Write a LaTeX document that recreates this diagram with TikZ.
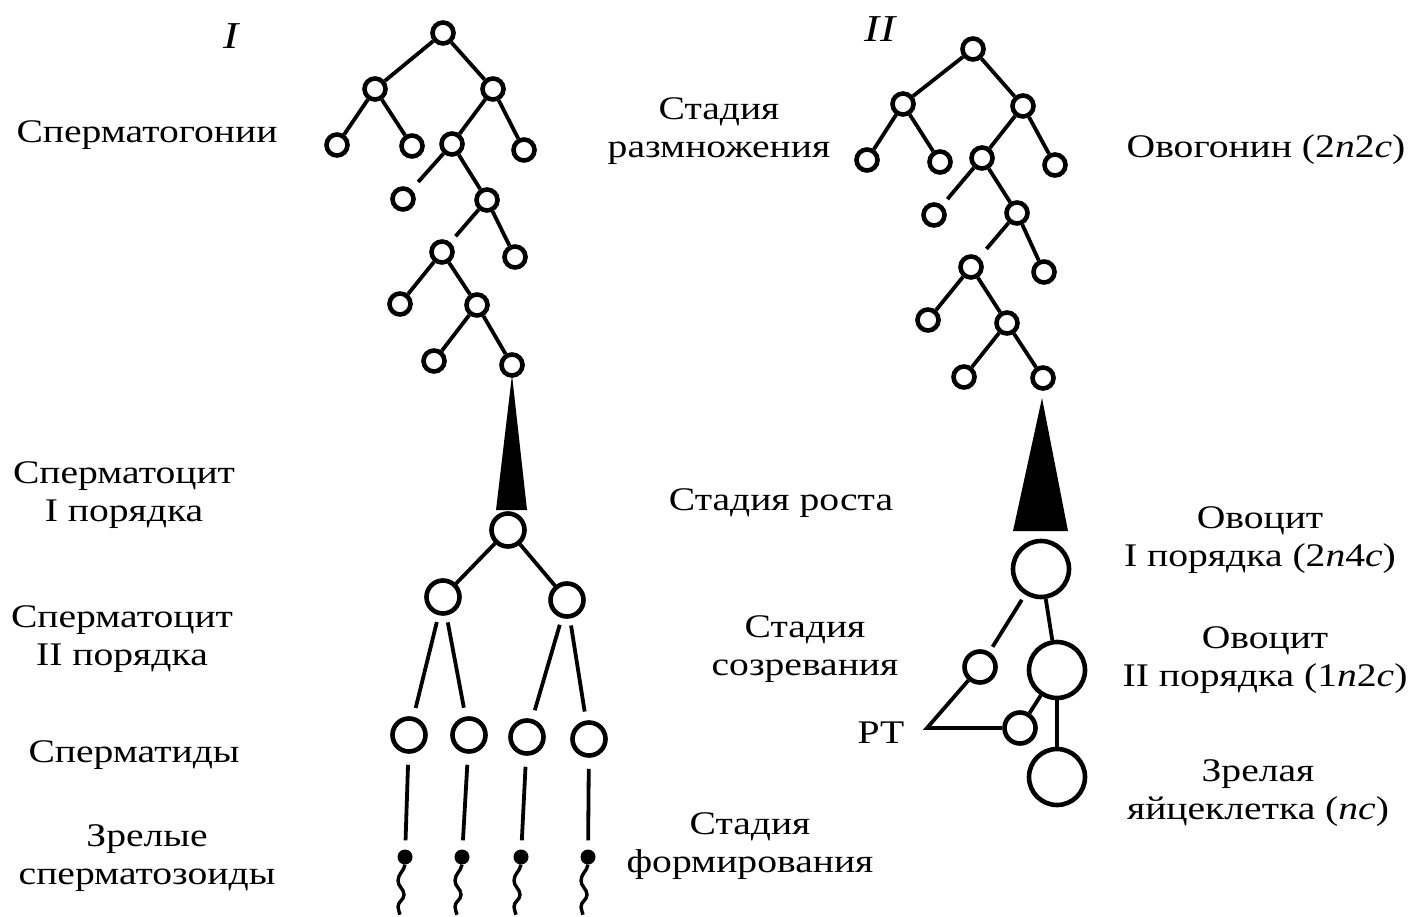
\documentclass[tikz,border=0pt]{standalone}
\usepackage{fontspec}
\setmainfont[FakeStretch=1.2]{Liberation Serif}
\tikzset{
  cell/.style={circle, draw, line width=4.6pt, minimum size=21pt, inner sep=0pt},
  mcell/.style={cell, minimum size=33pt},
  bcell/.style={cell, minimum size=56pt},
  pbody/.style={cell, minimum size=31pt},
  shead/.style={circle, fill, minimum size=15pt, inner sep=0pt},
  link/.style={line width=3.8pt},
  stail/.style={line width=3.4pt},
  lbl/.style={font=\fontsize{33}{38}\selectfont, align=center, inner sep=0pt}
}

\begin{document}
\begin{tikzpicture}[x=1pt, y=-1pt]
   \useasboundingbox (0,0) rectangle (1410,917);
   % spermatogonia
   \node(g0)[cell] at (443,33) {};
   \node(g1)[cell] at (375,89) {};
   \node(g2)[cell] at (493,89) {};
   \node(g3)[cell] at (337,145) {};
   \node(g4)[cell] at (412,146) {};
   \node(g5)[cell] at (452,144) {};
   \node(g6)[cell] at (524,150) {};
   \node(g7)[cell] at (403,199) {};
   \node(g8)[cell] at (487,200) {};
   \node(g9)[cell] at (442,252) {};
   \node(g10)[cell] at (515,257) {};
   \node(g11)[cell] at (400,304) {};
   \node(g12)[cell] at (477,305) {};
   \node(g13)[cell] at (434,361) {};
   \node(g14)[cell] at (512,365) {};
   \draw[link] (g0) -- (g1);
   \draw[link] (g0) -- (g2);
   \draw[link] (g1) -- (g3);
   \draw[link] (g1) -- (g4);
   \draw[link] (g2) -- (g5);
   \draw[link] (g2) -- (g6);
   \draw[link, shorten >=10pt] (g5) -- (g7);
   \draw[link] (g5) -- (g8);
   \draw[link, shorten >=8pt] (g8) -- (g9);
   \draw[link] (g8) -- (g10);
   \draw[link] (g9) -- (g11);
   \draw[link] (g9) -- (g12);
   \draw[link] (g12) -- (g13);
   \draw[link] (g12) -- (g14);
   % growth, left
   \fill (512,375) -- (527,510) -- (496,510) -- cycle;
   % spermatocytes, spermatids
   \node(sc1)[mcell] at (508,530) {};
   \node(sc2l)[mcell] at (443,597) {};
   \node(sc2r)[mcell] at (567,600) {};
   \node(st1)[mcell] at (409,735) {};
   \node(st2)[mcell] at (469,735) {};
   \node(st3)[mcell] at (527,737) {};
   \node(st4)[mcell] at (589,739) {};
   \draw[link] (sc1) -- (sc2l);
   \draw[link] (sc1) -- (sc2r);
   \draw[link, shorten <=7pt, shorten >=9pt] (sc2l) -- (st1);
   \draw[link, shorten <=7pt, shorten >=9pt] (sc2l) -- (st2);
   \draw[link, shorten <=7pt, shorten >=9pt] (sc2r) -- (st3);
   \draw[link, shorten <=7pt, shorten >=9pt] (sc2r) -- (st4);
   % spermatozoa
   \node(sz1)[shead] at (405,857) {};
   \node(sz2)[shead] at (462,857) {};
   \node(sz3)[shead] at (521,857) {};
   \node(sz4)[shead] at (588,857) {};
   \draw[link, shorten <=11pt, shorten >=9pt] (st1) -- (sz1);
   \draw[link, shorten <=11pt, shorten >=9pt] (st2) -- (sz2);
   \draw[link, shorten <=11pt, shorten >=9pt] (st3) -- (sz3);
   \draw[link, shorten <=11pt, shorten >=9pt] (st4) -- (sz4);
   \draw[stail] (sz1.south) to[out=260,in=90] ++(-7,16) to[out=270,in=90] ++(6,14) to[out=270,in=90] ++(-6,12) to[out=270,in=100] ++(2,8);
   \draw[stail] (sz2.south) to[out=260,in=90] ++(-7,16) to[out=270,in=90] ++(6,14) to[out=270,in=90] ++(-6,12) to[out=270,in=100] ++(2,8);
   \draw[stail] (sz3.south) to[out=260,in=90] ++(-7,16) to[out=270,in=90] ++(6,14) to[out=270,in=90] ++(-6,12) to[out=270,in=100] ++(2,8);
   \draw[stail] (sz4.south) to[out=260,in=90] ++(-7,16) to[out=270,in=90] ++(6,14) to[out=270,in=90] ++(-6,12) to[out=270,in=100] ++(2,8);
   % oogonia
   \node(og0)[cell] at (973,49) {};
   \node(og1)[cell] at (903,104) {};
   \node(og2)[cell] at (1023,106) {};
   \node(og3)[cell] at (867,160) {};
   \node(og4)[cell] at (940,162) {};
   \node(og5)[cell] at (982,158) {};
   \node(og6)[cell] at (1055,165) {};
   \node(og7)[cell] at (934,215) {};
   \node(og8)[cell] at (1017,213) {};
   \node(og9)[cell] at (971,267) {};
   \node(og10)[cell] at (1044,272) {};
   \node(og11)[cell] at (928,320) {};
   \node(og12)[cell] at (1007,323) {};
   \node(og13)[cell] at (964,377) {};
   \node(og14)[cell] at (1043,378) {};
   \draw[link] (og0) -- (og1);
   \draw[link] (og0) -- (og2);
   \draw[link] (og1) -- (og3);
   \draw[link] (og1) -- (og4);
   \draw[link] (og2) -- (og5);
   \draw[link] (og2) -- (og6);
   \draw[link, shorten >=8pt] (og5) -- (og7);
   \draw[link] (og5) -- (og8);
   \draw[link, shorten >=11pt] (og8) -- (og9);
   \draw[link] (og8) -- (og10);
   \draw[link] (og9) -- (og11);
   \draw[link] (og9) -- (og12);
   \draw[link] (og12) -- (og13);
   \draw[link] (og12) -- (og14);
   % growth, right
   \fill (1042,398) -- (1068,531) -- (1013,531) -- cycle;
   % oocytes, polar bodies
   \node(oc1)[bcell] at (1041,569) {};
   \node(oc2)[bcell] at (1057,670) {};
   \node(egg)[bcell] at (1057,777) {};
   \node(pt1)[pbody] at (980,667) {};
   \node(pt2)[pbody] at (1020,728) {};
   \coordinate (rtc) at (927,728);
   \draw[link, shorten <=6pt, shorten >=6pt] (oc1) -- (pt1);
   \draw[link] (oc1) -- (oc2);
   \draw[link] (oc2) -- (pt2);
   \draw[link] (oc2) -- (egg);
   \draw[link] (pt1) -- (rtc) -- (pt2);
   % labels
   \node(t1)[lbl, font=\fontsize{38}{40}\selectfont\itshape] at (231,36) {I};
   \node(t2)[lbl, font=\fontsize{38}{40}\selectfont\itshape] at (880,29) {II};
   \node(l1)[lbl] at (147,135) {Сперматогонии};
   \node(l2)[lbl] at (124,495) {Сперматоцит\\I порядка};
   \node(l3)[lbl] at (122,639) {Сперматоцит\\II порядка};
   \node(l4)[lbl] at (134,755) {Сперматиды};
   \node(l5)[lbl] at (147,858) {Зрелые\\сперматозоиды};
   \node(m1)[lbl] at (719,131) {Стадия\\размножения};
   \node(m2)[lbl] at (781,503) {Стадия роста};
   \node(m3)[lbl] at (805,649) {Стадия\\созревания};
   \node(rt)[lbl] at (881,733) {РТ};
   \node(m4)[lbl] at (750,846) {Стадия\\формирования};
   \node(r1)[lbl] at (1266,150) {Овогонин (2\textit{n}2\textit{c})};
   \node(r2)[lbl] at (1260,540) {Овоцит\\I порядка (2\textit{n}4\textit{c})};
   \node(r3)[lbl] at (1265,660) {Овоцит\\II порядка (1\textit{n}2\textit{c})};
   \node(r4)[lbl] at (1258,793) {Зрелая\\яйцеклетка (\textit{nc})};
\end{tikzpicture}
\end{document}
